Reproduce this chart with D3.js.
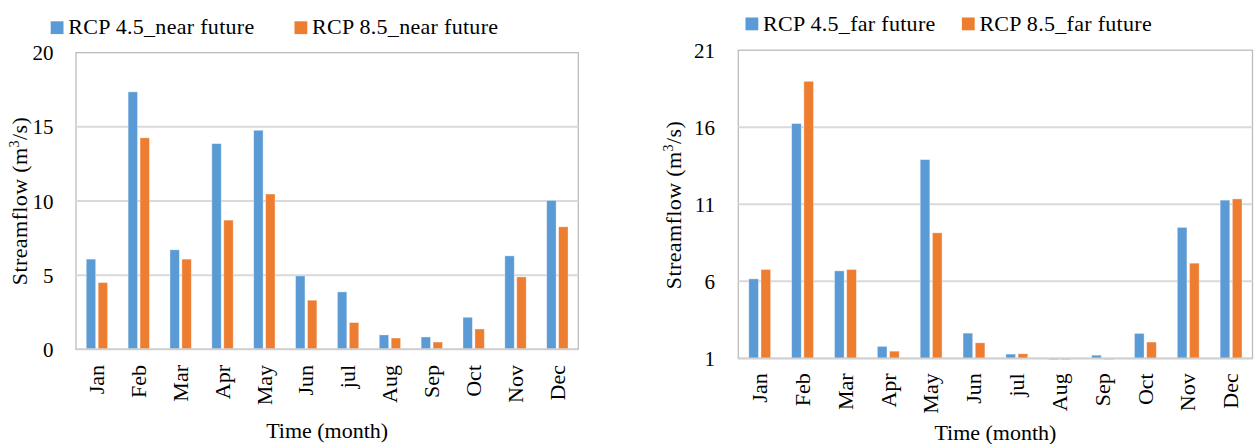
<!DOCTYPE html>
<html>
<head>
<meta charset="utf-8">
<script src="https://cdn.jsdelivr.net/npm/d3@7"></script>
<style>
  html, body { margin: 0; padding: 0; background: #fff; }
  svg { display: block; }
  text { font-family: "Liberation Serif", "Times New Roman", serif; fill: #000; }
</style>
</head>
<body>
<svg id="chart" width="1254" height="444"></svg>
<script>
// Monthly streamflow (m3/s) projected under two emission scenarios
const months = ["Jan", "Feb", "Mar", "Apr", "May", "Jun", "jul", "Aug", "Sep", "Oct", "Nov", "Dec"];

// Near future
const nearRcp45 = [6.08, 17.36, 6.71, 13.87, 14.77, 4.95, 3.87, 0.97, 0.83, 2.16, 6.30, 10.04];
const nearRcp85 = [4.50, 14.26, 6.08, 8.71, 10.47, 3.31, 1.80, 0.76, 0.49, 1.37, 4.88, 8.26];
const nearTicks = [0, 5, 10, 15, 20];
const nearLegend = ["RCP 4.5_near future", "RCP 8.5_near future"];

// Far future
const farRcp45 = [6.16, 16.24, 6.68, 1.78, 13.90, 2.64, 1.28, 0.92, 1.21, 2.62, 9.50, 11.27];
const farRcp85 = [6.77, 18.98, 6.77, 1.47, 9.15, 2.01, 1.30, 0.92, 0.93, 2.06, 7.18, 11.35];
const farTicks = [1, 6, 11, 16, 21];
const farLegend = ["RCP 4.5_far future", "RCP 8.5_far future"];

const seriesColors = ["#5b9bd5", "#ed7d31"];

const svg = d3.select("#chart");

function drawPanel(opt) {
  const g = svg.append("g");
  const x = d3.scaleBand().domain(months).range([opt.left, opt.right]).padding(0);
  const y = d3.scaleLinear().domain([opt.ticks[0], opt.ticks[opt.ticks.length - 1]])
    .range([opt.bottom, opt.top]);
  const base = opt.ticks[0];
  const bw = x.bandwidth();
  const barW = bw * 0.225;
  const gap = bw * 0.06;

  // plot frame
  g.append("rect")
    .attr("x", opt.left).attr("y", opt.top)
    .attr("width", opt.right - opt.left).attr("height", opt.bottom - opt.top)
    .attr("fill", "none").attr("stroke", "#bcbcbc").attr("stroke-width", 1.3);

  // horizontal gridlines
  g.selectAll(".grid").data(opt.ticks.slice(1, -1)).join("line")
    .attr("x1", opt.left).attr("x2", opt.right)
    .attr("y1", d => y(d)).attr("y2", d => y(d))
    .attr("stroke", "#d9d9d9").attr("stroke-width", 2);

  // bars
  const series = [opt.a, opt.b];
  series.forEach((vals, si) => {
    g.selectAll(".bar" + si).data(vals).join("rect")
      .attr("x", (d, i) => {
        const c = x(months[i]) + bw / 2;
        return si === 0 ? c - gap / 2 - barW : c + gap / 2;
      })
      .attr("y", d => Math.min(y(d), y(base)))
      .attr("width", barW)
      .attr("height", d => Math.abs(y(base) - y(d)))
      .attr("fill", seriesColors[si])
      .attr("stroke", "#ffffff").attr("stroke-opacity", 0.45).attr("stroke-width", 0.8);
  });

  // category axis line
  g.append("line")
    .attr("x1", opt.left).attr("x2", opt.right)
    .attr("y1", y(base)).attr("y2", y(base))
    .attr("stroke", "#d0d0d0").attr("stroke-width", 2);

  // value axis labels
  const yAxis = g.append("g")
    .attr("transform", `translate(${opt.left - opt.tickGap},0)`)
    .call(d3.axisLeft(y).tickValues(opt.ticks).tickSize(0).tickPadding(0));
  yAxis.select(".domain").remove();
  yAxis.selectAll("text")
    .style("font-family", '"Liberation Serif", serif')
    .attr("font-size", 21).attr("fill", "#000").attr("dy", "0.34em");

  // month labels, rotated
  const xAxis = g.append("g")
    .attr("transform", `translate(0,${opt.labelTop})`)
    .call(d3.axisBottom(x).tickSize(0).tickPadding(0));
  xAxis.select(".domain").remove();
  xAxis.selectAll("text")
    .style("font-family", '"Liberation Serif", serif')
    .attr("font-size", 22).attr("fill", "#000")
    .attr("text-anchor", "end")
    .attr("transform", "rotate(-90)")
    .attr("x", 0).attr("y", 0).attr("dy", "0.33em");

  // axis titles
  g.append("text")
    .attr("x", (opt.left + opt.right) / 2).attr("y", opt.xTitleY)
    .attr("text-anchor", "middle").attr("font-size", 22)
    .text("Time (month)");

  const yt = g.append("text")
    .attr("transform", `translate(${opt.yTitleX},${opt.yTitleY}) rotate(-90)`)
    .attr("text-anchor", "middle").attr("font-size", 22)
    .attr("letter-spacing", 0.4);
  yt.append("tspan").text("Streamflow (m");
  yt.append("tspan").attr("font-size", 14).attr("dy", -8).text("3");
  yt.append("tspan").attr("dy", 8).text("/s)");

  // legend
  opt.legend.forEach((name, i) => {
    const lx = opt.legendX[i];
    g.append("rect")
      .attr("x", lx).attr("y", opt.legendY - 13)
      .attr("width", 12.8).attr("height", 12.8)
      .attr("fill", seriesColors[i]);
    g.append("text")
      .attr("x", lx + 17.5).attr("y", opt.legendY)
      .attr("font-size", 22).attr("letter-spacing", 0.3)
      .text(name);
  });
}

drawPanel({
  a: nearRcp45, b: nearRcp85, ticks: nearTicks, legend: nearLegend,
  left: 76, right: 578.3, top: 52.7, bottom: 349.3,
  tickGap: 22.6, labelTop: 365, xTitleY: 438,
  yTitleX: 27, yTitleY: 201,
  legendX: [50.7, 294.5], legendY: 34.3
});

drawPanel({
  a: farRcp45, b: farRcp85, ticks: farTicks, legend: farLegend,
  left: 738.3, right: 1252.5, top: 50.2, bottom: 358.4,
  tickGap: 23.3, labelTop: 373.3, xTitleY: 440,
  yTitleX: 681, yTitleY: 205,
  legendX: [745.5, 961.9], legendY: 30.5
});
</script>
</body>
</html>
